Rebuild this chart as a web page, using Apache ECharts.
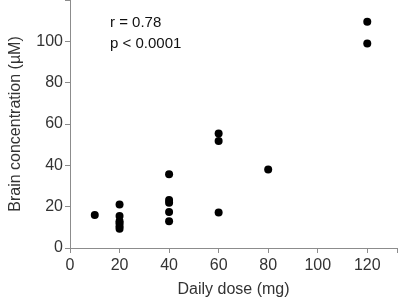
<!DOCTYPE html>
<html>
<head>
<meta charset="utf-8">
<script src="https://cdn.jsdelivr.net/npm/echarts@6/dist/echarts.min.js"></script>
<style>html,body{margin:0;padding:0;background:#fff;}</style>
</head>
<body>
<div id="main" style="width:400px;height:305px;"></div>
<script>
// daily dose (mg) and brain concentration (µM) per subject
var doses = [10, 20, 20, 20, 20, 20, 20, 40, 40, 40, 40, 40, 60, 60, 60, 80, 120, 120];
var concs = [16, 21, 15.5, 13, 12, 10.5, 9.3, 35.7, 23.2, 21.9, 17.4, 12.9, 55.4, 51.8, 17.2, 38, 109.5, 99];
var statLines = ["r = 0.78", "p < 0.0001"];

var chart = echarts.init(document.getElementById("main"));
var axisColor = "#8c8c8c";
var txtColor = "#333";
var font = "Liberation Sans, Arial, sans-serif";

chart.setOption({
  animation: false,
  grid: { left: 69, right: 0, top: 0, bottom: 57 },
  xAxis: {
    type: "value",
    min: 0,
    max: 132,
    interval: 20,
    name: "Daily dose (mg)",
    nameLocation: "middle",
    nameGap: 34,
    nameTextStyle: { color: txtColor, fontSize: 16, fontFamily: font },
    axisLine: { lineStyle: { color: axisColor } },
    axisTick: { show: true, length: 5, lineStyle: { color: axisColor } },
    axisLabel: {
      color: txtColor, fontSize: 16, fontFamily: font, margin: 10,
      formatter: function (v) { return v % 20 === 0 ? v : ""; }
    },
    splitLine: { show: false }
  },
  yAxis: {
    type: "value",
    min: 0,
    max: 120,
    interval: 20,
    name: "Brain concentration (µM)",
    nameLocation: "middle",
    nameGap: 46,
    nameTextStyle: { color: txtColor, fontSize: 16, fontFamily: font },
    axisLine: { show: true, lineStyle: { color: axisColor } },
    axisTick: { show: true, length: 5, lineStyle: { color: axisColor } },
    axisLabel: {
      color: txtColor, fontSize: 16, fontFamily: font, margin: 7,
      formatter: function (v) { return v >= 120 ? "" : v; }
    },
    splitLine: { show: false }
  },
  graphic: [{
    type: "text",
    left: 110,
    top: 12,
    style: { text: statLines.join("\n"), fill: "#111", font: "15px " + font, lineHeight: 21 }
  }],
  series: [{
    type: "scatter",
    symbolSize: 8,
    itemStyle: { color: "#000", opacity: 1 },
    data: doses.map(function (d, i) { return [d, concs[i]]; })
  }]
});
</script>
</body>
</html>
